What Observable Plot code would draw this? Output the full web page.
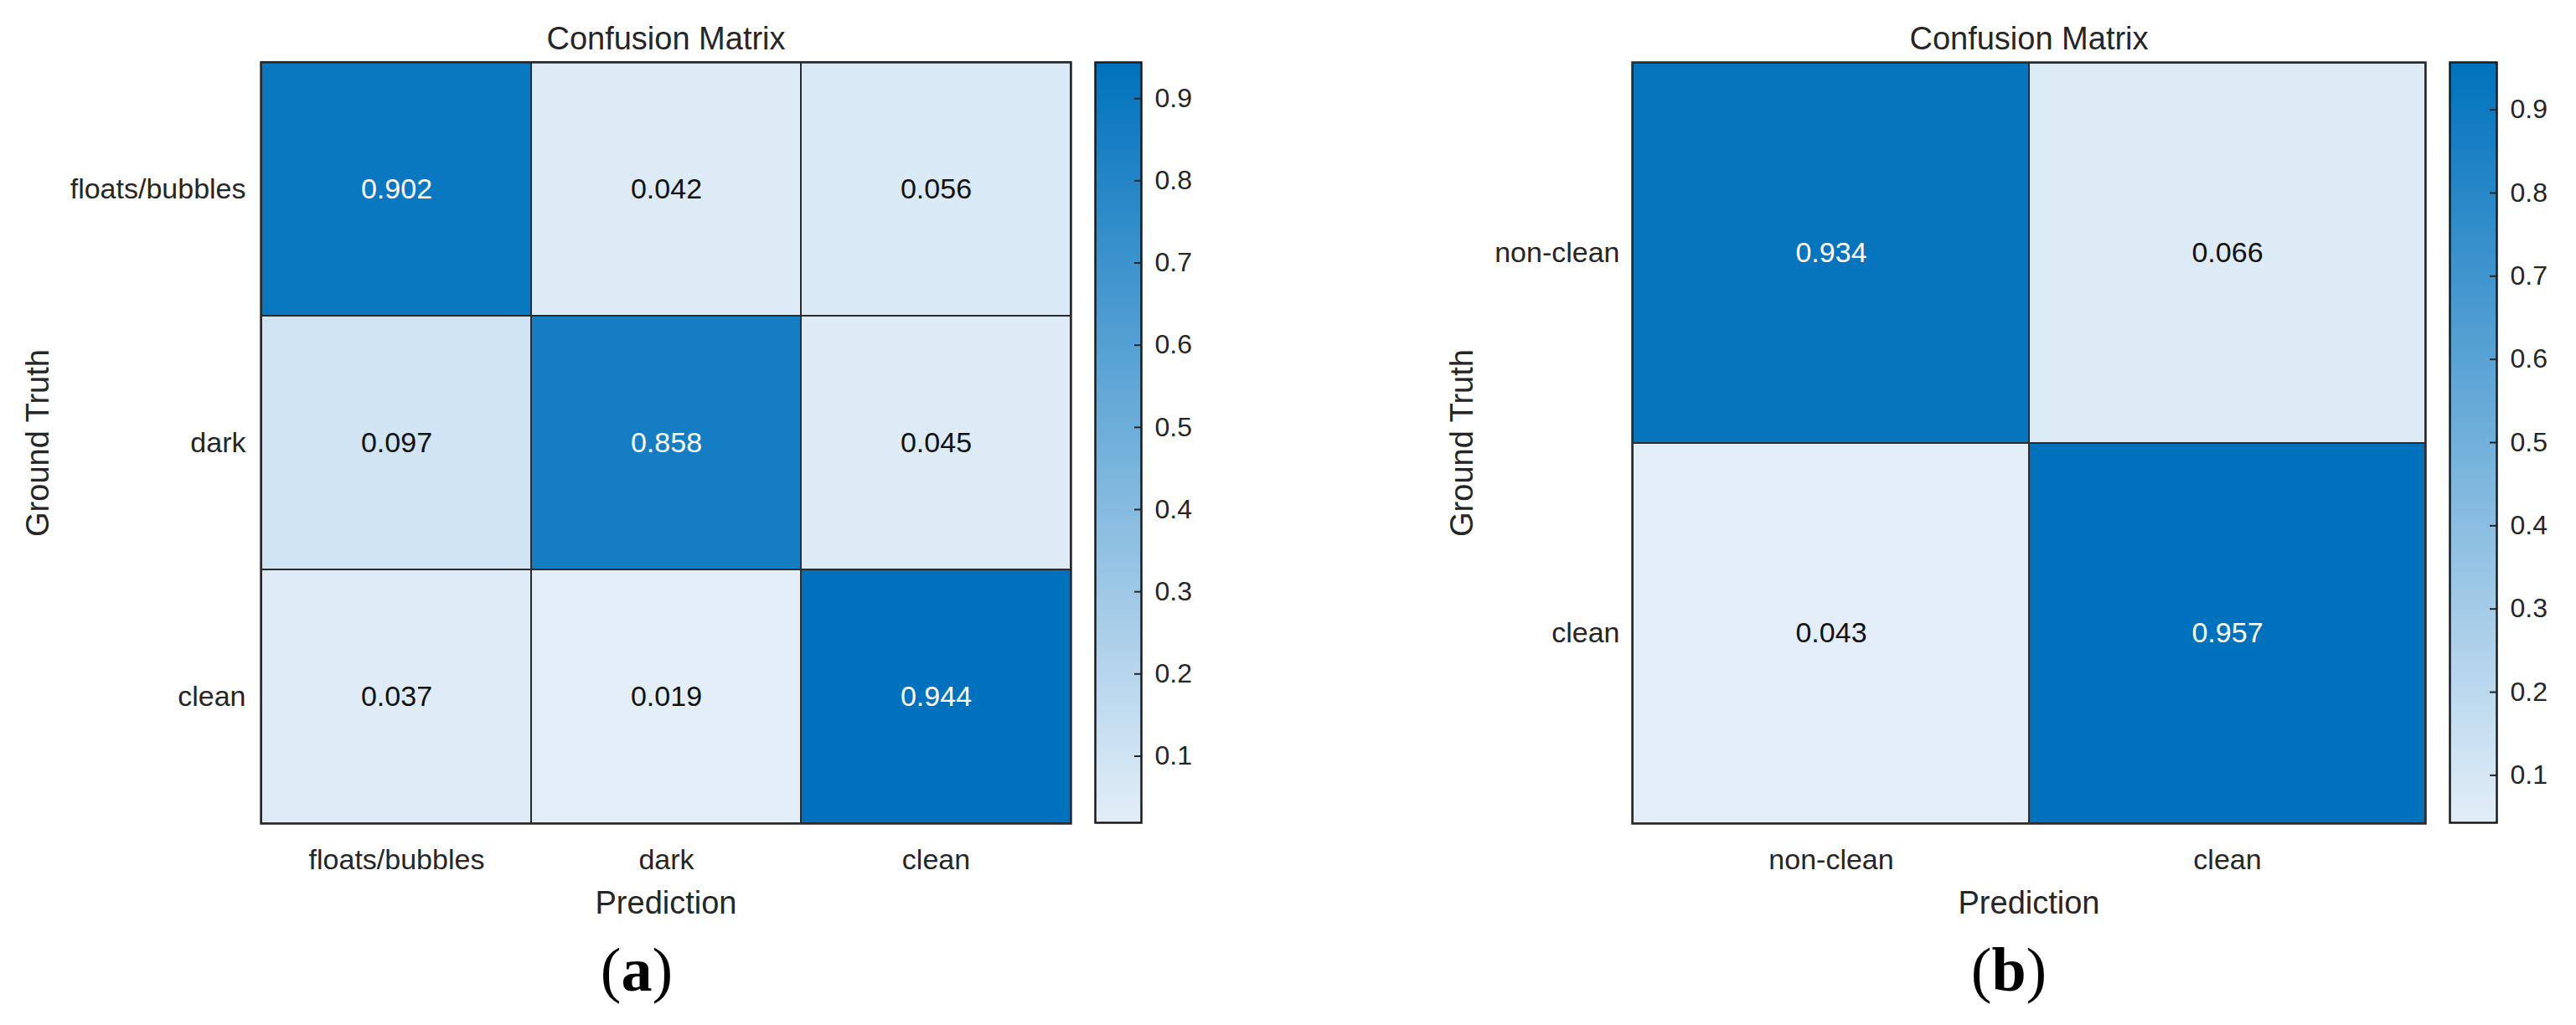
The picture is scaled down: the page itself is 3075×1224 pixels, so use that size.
<!DOCTYPE html>
<html>
<head>
<meta charset="utf-8">
<script src="https://cdn.jsdelivr.net/npm/d3@7"></script>
<script src="https://cdn.jsdelivr.net/npm/@observablehq/plot@0.6"></script>
<style>
  html, body { margin: 0; padding: 0; background: #fff; }
  #root { position: relative; width: 3075px; height: 1224px; overflow: hidden; background: #fff; }
  .panel { position: absolute; top: 0; }
  .panel svg { overflow: visible; }
  .cap { position: absolute; top: 1121px; font-family: "Liberation Serif", "Times New Roman", serif;
         font-size: 74px; line-height: 74px; color: #000; white-space: nowrap; transform: translateX(-50%); }
  .cap b { font-weight: bold; }
</style>
</head>
<body>
<div id="root"></div>
<script>
// ---- data ----
const classesA = ["floats/bubbles", "dark", "clean"];
const valuesA = [
  [0.902, 0.042, 0.056],
  [0.097, 0.858, 0.045],
  [0.037, 0.019, 0.944]
];
const classesB = ["non-clean", "clean"];
const valuesB = [
  [0.934, 0.066],
  [0.043, 0.957]
];
const colorbarTicks = [0.1, 0.2, 0.3, 0.4, 0.5, 0.6, 0.7, 0.8, 0.9];
const titleText = "Confusion Matrix";
const xLabelText = "Prediction";
const yLabelText = "Ground Truth";
const captionLetters = ["a", "b"];

// ---- style ----
const FONT = '"Liberation Sans", Arial, Helvetica, sans-serif';
const lowColor = "#E3EEF8";
const highColor = "#0072BD";
const lineColor = "#2b2b2b";
const textColor = "#262626";

function cellsOf(classes, values) {
  return classes.flatMap((t, i) => classes.map((p, j) => ({ truth: t, pred: p, value: values[i][j] })));
}

function colorScale(ext) {
  return { type: "linear", domain: ext, range: [lowColor, highColor], interpolate: "rgb" };
}

function matrixPlot(classes, values, L) {
  const data = cellsOf(classes, values);
  const ext = d3.extent(data, d => d.value);
  return Plot.plot({
    width: L.width, height: 1224,
    marginLeft: L.ml, marginRight: L.mr, marginTop: 74, marginBottom: 241,
    style: { fontFamily: FONT, color: textColor, background: "transparent", overflow: "visible" },
    x: { domain: classes, padding: 0, label: null, axis: null },
    y: { domain: classes, padding: 0, label: null, axis: null },
    color: colorScale(ext),
    marks: [
      Plot.cell(data, { x: "pred", y: "truth", fill: "value", stroke: lineColor, strokeWidth: 2 }),
      Plot.text(data.filter(d => d.value > 0.5), { x: "pred", y: "truth", text: d => d.value.toFixed(3), fill: "#ffffff", fontSize: 34 }),
      Plot.text(data.filter(d => d.value <= 0.5), { x: "pred", y: "truth", text: d => d.value.toFixed(3), fill: "#111111", fontSize: 34 }),
      Plot.frame({ stroke: lineColor, strokeWidth: 2.5 }),
      Plot.axisX({ anchor: "bottom", tickSize: 0, tickPadding: 30, fontSize: 34, label: null }),
      Plot.axisY({ anchor: "left", tickSize: 0, tickPadding: L.yPad, fontSize: 34, label: null }),
      Plot.text([titleText], { frameAnchor: "top", textAnchor: "middle", lineAnchor: "middle", dy: -28, fontSize: 38, fill: textColor }),
      Plot.text([xLabelText], { frameAnchor: "bottom", textAnchor: "middle", lineAnchor: "middle", dy: 95, fontSize: 38, fill: textColor }),
      Plot.text([yLabelText], { frameAnchor: "left", textAnchor: "middle", lineAnchor: "middle", dx: L.gtDx, rotate: -90, fontSize: 38, fill: textColor })
    ]
  });
}

function colorbarPlot(classes, values, L) {
  const ext = d3.extent(values.flat());
  const N = 300;
  const slices = d3.range(N).map(i => {
    const a = ext[0] + (ext[1] - ext[0]) * i / N;
    const b = ext[0] + (ext[1] - ext[0]) * (i + 1) / N;
    return { y1: a, y2: b, v: (a + b) / 2 };
  });
  return Plot.plot({
    width: L.width, height: 1224,
    marginLeft: L.ml, marginRight: L.mr, marginTop: 74, marginBottom: 242,
    style: { fontFamily: FONT, color: textColor, background: "transparent", overflow: "visible" },
    x: { domain: [0, 1], axis: null },
    y: { domain: ext, axis: null },
    color: colorScale(ext),
    marks: [
      Plot.rect(slices, { x1: 0, x2: 1, y1: "y1", y2: "y2", fill: "v", shapeRendering: "crispEdges" }),
      Plot.tickY(colorbarTicks, { y: d => d, insetLeft: L.cbw - 8, stroke: textColor, strokeWidth: 2 }),
      Plot.frame({ stroke: "#1a1a1a", strokeWidth: 2.5 }),
      Plot.axisY(colorbarTicks, { anchor: "right", tickSize: 0, tickPadding: 16, fontSize: 32, tickFormat: d3.format(".1f"), label: null })
    ]
  });
}

const root = document.getElementById("root");
function place(node, left) {
  const div = document.createElement("div");
  div.className = "panel";
  div.style.left = left + "px";
  div.appendChild(node);
  root.appendChild(div);
}

place(matrixPlot(classesA, valuesA, { width: 1300, ml: 311, mr: 22, yPad: 18, gtDx: -266 }), 0);
place(colorbarPlot(classesA, valuesA, { width: 150, ml: 7, mr: 88, cbw: 55 }), 1300);
place(matrixPlot(classesB, valuesB, { width: 1320, ml: 348, mr: 25, yPad: 15, gtDx: -203 }), 1600);
place(colorbarPlot(classesB, valuesB, { width: 175, ml: 24, mr: 95, cbw: 56 }), 2900);

const capX = [760, 2398];
captionLetters.forEach((c, i) => {
  const div = document.createElement("div");
  div.className = "cap";
  div.style.left = capX[i] + "px";
  div.innerHTML = "(<b>" + c + "</b>)";
  root.appendChild(div);
});
</script>
</body>
</html>
